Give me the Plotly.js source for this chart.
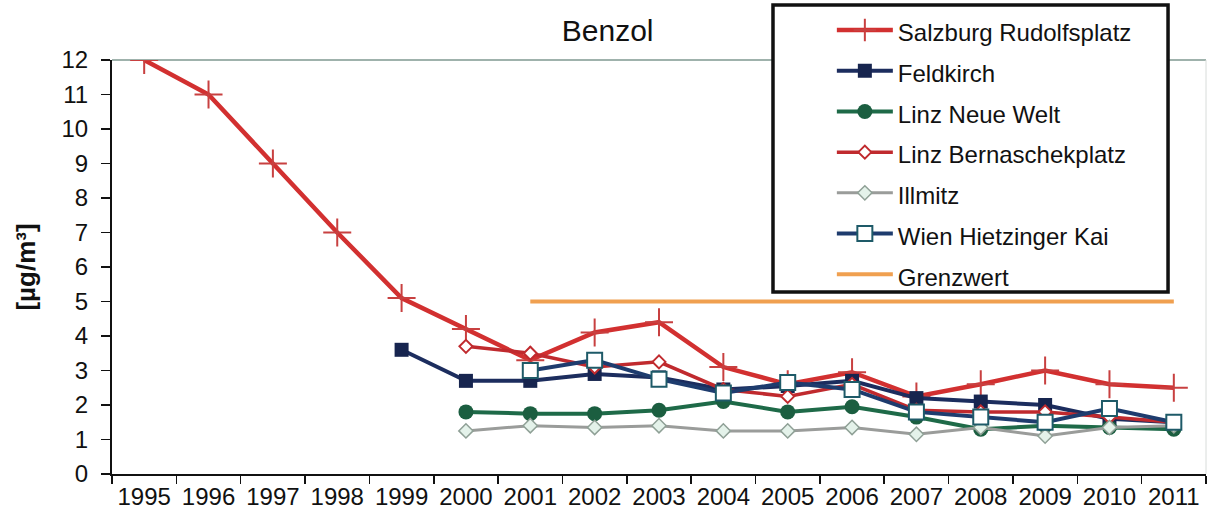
<!DOCTYPE html>
<html>
<head>
<meta charset="utf-8">
<script src="https://cdn.plot.ly/plotly-3.0.1.min.js"></script>
<style>
  html, body { margin: 0; padding: 0; background: #ffffff; }
  #chart { width: 1208px; height: 514px; }
</style>
</head>
<body>
<div id="chart"></div>
<script>
// ---- data ----
const years = ["1995","1996","1997","1998","1999","2000","2001","2002","2003","2004","2005","2006","2007","2008","2009","2010","2011"];

const salzburgRudolfsplatz = [12, 11, 9, 7, 5.1, 4.2, 3.3, 4.1, 4.4, 3.1, 2.6, 2.95, 2.25, 2.6, 3.0, 2.6, 2.5];
const feldkirch            = [null, null, null, null, 3.6, 2.7, 2.7, 2.9, 2.8, 2.45, 2.55, 2.7, 2.2, 2.1, 2.0, 1.6, 1.5];
const linzNeueWelt         = [null, null, null, null, null, 1.8, 1.75, 1.75, 1.85, 2.1, 1.8, 1.95, 1.65, 1.3, 1.4, 1.35, 1.3];
const linzBernaschekplatz  = [null, null, null, null, null, 3.7, 3.5, 3.1, 3.25, 2.45, 2.25, 2.6, 1.85, 1.8, 1.8, 1.65, 1.5];
const illmitz              = [null, null, null, null, null, 1.25, 1.4, 1.35, 1.4, 1.25, 1.25, 1.35, 1.15, 1.35, 1.1, 1.35, 1.4];
const wienHietzingerKai    = [null, null, null, null, null, null, 3.0, 3.3, 2.75, 2.35, 2.65, 2.45, 1.8, 1.65, 1.5, 1.9, 1.5];
const grenzwert            = [null, null, null, null, null, null, 5, 5, 5, 5, 5, 5, 5, 5, 5, 5, 5];

const seriesNames = ["Salzburg Rudolfsplatz", "Feldkirch", "Linz Neue Welt", "Linz Bernaschekplatz", "Illmitz", "Wien Hietzinger Kai", "Grenzwert"];
const yTicks = [0,1,2,3,4,5,6,7,8,9,10,11,12];

// ---- chart ----
const FONT = "Liberation Sans, Arial, Helvetica, sans-serif";
const lg = (t) => '<span style="font-size:24px">' + t + '</span>';

const traces = [
  { x: years, y: salzburgRudolfsplatz, name: lg(seriesNames[0]), mode: "lines+markers",
    line: { color: "#d23030", width: 4.5 },
    marker: { symbol: "cross-thin", size: 20, line: { color: "#c84040", width: 2 } } },
  { x: years, y: feldkirch, name: lg(seriesNames[1]), mode: "lines+markers",
    line: { color: "#1c2d5e", width: 4 },
    marker: { symbol: "square", size: 14, color: "#17254f" } },
  { x: years, y: linzNeueWelt, name: lg(seriesNames[2]), mode: "lines+markers",
    line: { color: "#1e6a48", width: 4 },
    marker: { symbol: "circle", size: 15, color: "#1b5e40" } },
  { x: years, y: linzBernaschekplatz, name: lg(seriesNames[3]), mode: "lines+markers",
    line: { color: "#c02a2e", width: 3.5 },
    marker: { symbol: "diamond", size: 10, color: "#ffffff", line: { color: "#c02a2e", width: 2 } } },
  { x: years, y: illmitz, name: lg(seriesNames[4]), mode: "lines+markers",
    line: { color: "#9a9c9a", width: 3 },
    marker: { symbol: "diamond", size: 11, color: "#e4f2ea", line: { color: "#8fa096", width: 1.5 } } },
  { x: years, y: wienHietzingerKai, name: lg(seriesNames[5]), mode: "lines+markers",
    line: { color: "#1e3c6e", width: 4 },
    marker: { symbol: "square", size: 15, color: "#ffffff", line: { color: "#1e5a68", width: 2 } } },
  { x: years, y: grenzwert, name: lg(seriesNames[6]), mode: "lines",
    line: { color: "#f0a050", width: 4 } }
];

const layout = {
  width: 1208, height: 514,
  margin: { l: 112, r: 2, t: 60, b: 40 },
  paper_bgcolor: "#ffffff", plot_bgcolor: "#ffffff",
  font: { family: FONT, color: "#111111", size: 24 },
  title: { text: "Benzol", font: { family: FONT, size: 30, color: "#111111" },
           x: 0.503, xanchor: "center", y: 0.94, yanchor: "middle" },
  showlegend: true,
  legend: {
    x: 0.658, xanchor: "left", y: 1.1336, yanchor: "top",
    bgcolor: "rgba(0,0,0,0)", borderwidth: 0,
    font: { family: FONT, size: 29, color: "#111111" },
    itemwidth: 56, traceorder: "normal", maxheight: 600
  },
  xaxis: {
    type: "category", categoryorder: "array", categoryarray: years,
    range: [-0.5, 16.5], autorange: false,
    showgrid: false, zeroline: false,
    showline: true, linecolor: "#111111", linewidth: 2,
    ticks: "outside", ticklen: 8, tickwidth: 1.5, tickcolor: "#111111",
    tickson: "boundaries", tickangle: 0,
    tickfont: { family: FONT, size: 24, color: "#111111" },
    fixedrange: true
  },
  yaxis: {
    range: [0, 12], autorange: false, tickmode: "array", tickvals: yTicks, ticktext: yTicks.map(String),
    showgrid: false, zeroline: false,
    showline: true, linecolor: "#111111", linewidth: 2,
    ticks: "outside", ticklen: 9, tickwidth: 1.5, tickcolor: "#111111",
    tickfont: { family: FONT, size: 24, color: "#111111" },
    ticklabelstandoff: 8,
    title: { text: "<b>[µg/m³]</b>", font: { family: FONT, size: 26, color: "#111111" }, standoff: 18 },
    fixedrange: true
  },
  shapes: [
    // thin top frame line of the plot area
    { type: "line", xref: "paper", yref: "paper", x0: 0, x1: 1, y0: 1, y1: 1,
      line: { color: "#7f9890", width: 1.5 }, layer: "below" },
    // faint right frame line
    { type: "line", xref: "paper", yref: "paper", x0: 1, x1: 1, y0: 0, y1: 1,
      line: { color: "#d8dcda", width: 1 }, layer: "below" },
    // legend frame
    { type: "rect", xref: "paper", yref: "paper", x0: 0.6042, x1: 0.9653, y0: 0.4396, y1: 1.1329,
      line: { color: "#111111", width: 3.5 }, fillcolor: "#ffffff", layer: "above" }
  ]
};

Plotly.newPlot("chart", traces, layout, { displayModeBar: false, staticPlot: true });
</script>
</body>
</html>
